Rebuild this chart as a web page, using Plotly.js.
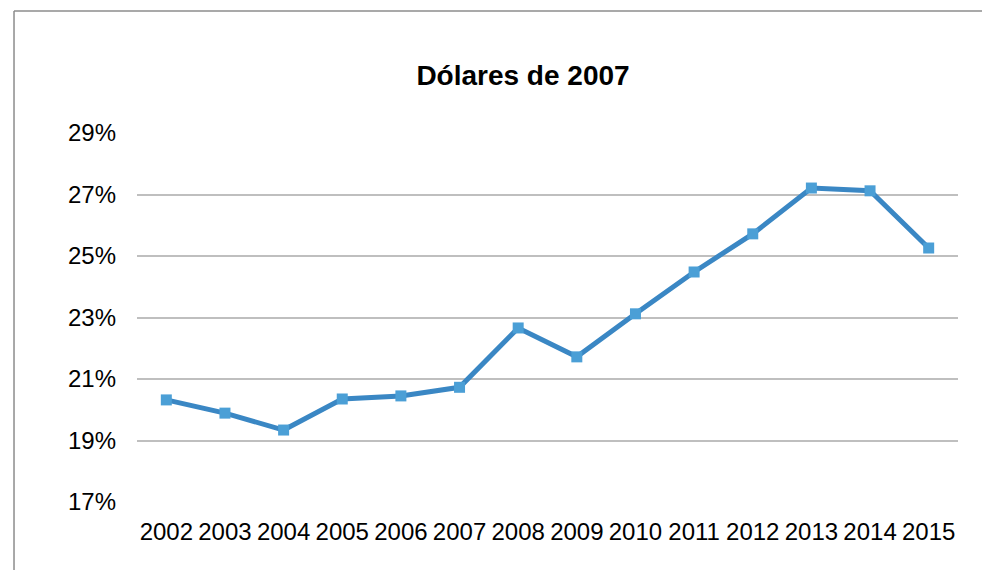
<!DOCTYPE html>
<html>
<head>
<meta charset="utf-8">
<script src="https://cdn.plot.ly/plotly-3.0.1.min.js"></script>
<style>html,body{margin:0;padding:0;background:#fff;}#chart{width:982px;height:570px;}</style>
</head>
<body>
<div id="chart"></div>
<script>
const years = ['2002','2003','2004','2005','2006','2007','2008','2009','2010','2011','2012','2013','2014','2015'];
const values = [20.32, 19.89, 19.34, 20.35, 20.45, 20.73, 22.66, 21.72, 23.12, 24.48, 25.72, 27.21, 27.12, 25.26];
const yTicks = [17, 19, 21, 23, 25, 27, 29];
const yTickLabels = ['17%', '19%', '21%', '23%', '25%', '27%', '29%'];

const trace = {
  x: years,
  y: values,
  type: 'scatter',
  mode: 'lines+markers',
  line: {color: '#3a87c4', width: 5},
  marker: {symbol: 'square', size: 11, color: '#4b9fd6', line: {width: 0}},
  hoverinfo: 'x+y'
};

const layout = {
  width: 982,
  height: 570,
  margin: {l: 137, r: 24, t: 133, b: 68, pad: 0},
  paper_bgcolor: '#ffffff',
  plot_bgcolor: '#ffffff',
  showlegend: false,
  title: {
    text: '<b>Dólares de 2007</b>',
    font: {family: 'Liberation Sans, Arial, sans-serif', size: 28, color: '#000'},
    x: 0.5326, xref: 'container', xanchor: 'center',
    y: 0.868, yref: 'container', yanchor: 'middle'
  },
  font: {family: 'Liberation Sans, Arial, sans-serif', size: 24, color: '#000'},
  xaxis: {
    type: 'category',
    range: [-0.5, 13.5],
    showgrid: false,
    showline: false,
    zeroline: false,
    ticks: '',
    ticklabelstandoff: 13,
    tickfont: {size: 24, color: '#000'}
  },
  yaxis: {
    range: [17, 29],
    tickvals: yTicks,
    ticktext: yTickLabels,
    showgrid: true,
    gridcolor: '#bfbfbf',
    gridwidth: 2,
    showline: false,
    zeroline: false,
    ticks: '',
    ticklabelstandoff: 20,
    tickfont: {size: 24, color: '#000'}
  },
  shapes: [
    {type: 'line', xref: 'paper', yref: 'paper', x0: -0.1498, x1: 1.03, y0: 1.3306, y1: 1.3306, line: {color: '#8c8c8c', width: 1.5}},
    {type: 'line', xref: 'paper', yref: 'paper', x0: -0.1498, x1: -0.1498, y0: 1.3306, y1: -0.25, line: {color: '#8c8c8c', width: 1.5}}
  ]
};

Plotly.newPlot('chart', [trace], layout, {displayModeBar: false, staticPlot: true});
</script>
</body>
</html>
